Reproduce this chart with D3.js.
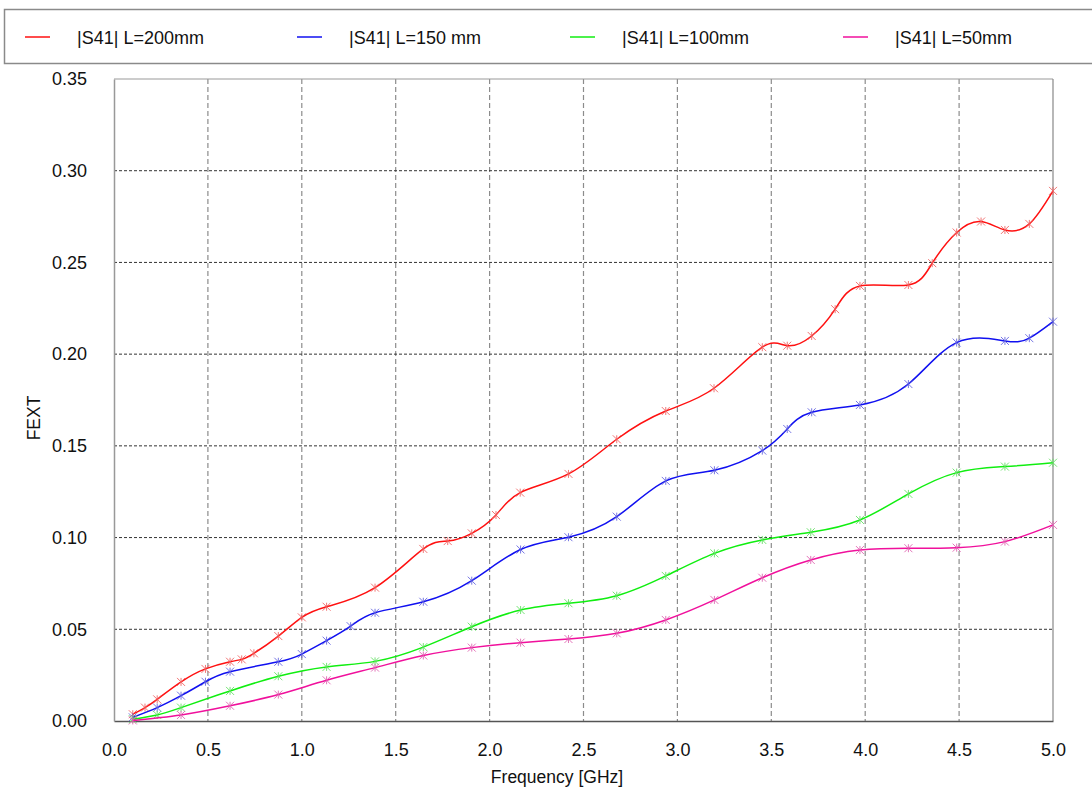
<!DOCTYPE html>
<html>
<head>
<meta charset="utf-8">
<script src="https://cdn.jsdelivr.net/npm/d3@7"></script>
<style>
  html, body { margin: 0; padding: 0; background: #fff; }
  svg { display: block; font-family: "Liberation Sans", Arial, sans-serif; }
</style>
</head>
<body>
<svg id="chart" width="1092" height="791"></svg>
<script>
// ---- data ----
const seriesNames = ["|S41| L=200mm", "|S41| L=150 mm", "|S41| L=100mm", "|S41| L=50mm"];

const freq200 = [0.1,0.165,0.23,0.357,0.487,0.618,0.68,0.745,0.875,1.0,1.132,1.39,1.647,1.777,1.905,2.034,2.163,2.42,2.677,2.938,3.195,3.452,3.585,3.715,3.84,3.972,4.23,4.357,4.487,4.617,4.744,4.874,5.0];
const s41_200 = [0.0037,0.0073,0.0118,0.0213,0.0284,0.0323,0.0336,0.0369,0.0463,0.0565,0.0623,0.0727,0.0938,0.0981,0.1023,0.1123,0.1245,0.1347,0.1536,0.169,0.1814,0.2038,0.2046,0.2099,0.2245,0.2372,0.2377,0.2496,0.2663,0.2723,0.2677,0.271,0.289];

const freq150 = [0.1,0.23,0.357,0.487,0.618,0.875,1.0,1.132,1.26,1.39,1.647,1.905,2.165,2.42,2.677,2.938,3.197,3.452,3.585,3.715,3.972,4.23,4.487,4.744,4.874,5.0];
const s41_150 = [0.002,0.0073,0.0138,0.0214,0.0269,0.0323,0.0365,0.0438,0.0517,0.059,0.065,0.0765,0.0935,0.1002,0.1114,0.1309,0.1367,0.1474,0.1592,0.1683,0.1723,0.1837,0.2063,0.2072,0.2087,0.2177];

const freq100 = [0.1,0.23,0.357,0.618,0.875,1.132,1.39,1.647,1.905,2.165,2.42,2.677,2.938,3.197,3.452,3.71,3.972,4.23,4.487,4.744,5.0];
const s41_100 = [0.001,0.0033,0.0073,0.0164,0.0244,0.0295,0.0325,0.0403,0.0514,0.0605,0.0642,0.0683,0.0791,0.0914,0.0987,0.1029,0.1096,0.1238,0.1354,0.1387,0.1408];

const freq50 = [0.1,0.357,0.618,0.875,1.132,1.39,1.647,1.905,2.165,2.42,2.677,2.938,3.197,3.452,3.71,3.972,4.23,4.487,4.744,5.0];
const s41_50 = [0.0003,0.0033,0.0083,0.0144,0.0222,0.0291,0.0357,0.04,0.0427,0.0447,0.0478,0.0551,0.066,0.0781,0.0878,0.0932,0.0942,0.0945,0.0978,0.1069];

const xTicks = [0.0,0.5,1.0,1.5,2.0,2.5,3.0,3.5,4.0,4.5,5.0];
const yTicks = [0.00,0.05,0.10,0.15,0.20,0.25,0.30,0.35];
const lineColors = ["#ff1010", "#1010f0", "#10ee10", "#f0109c"];
const markColors = ["#f06060", "#6060e0", "#60e060", "#e060b0"];

const seriesData = [
  {name: seriesNames[0], f: freq200, v: s41_200},
  {name: seriesNames[1], f: freq150, v: s41_150},
  {name: seriesNames[2], f: freq100, v: s41_100},
  {name: seriesNames[3], f: freq50,  v: s41_50}
];

// ---- layout ----
const svg = d3.select("#chart");
const L = 114, T = 79, R = 1053, B = 721;
const x = d3.scaleLinear().domain([0, 5]).range([L, R]);
const y = d3.scaleLinear().domain([0, 0.35]).range([B, T]);

// legend
svg.append("rect").attr("x", 4.5).attr("y", 9.5).attr("width", 1100).attr("height", 54)
  .attr("fill", "#fff").attr("stroke", "#8a8a8a").attr("stroke-width", 1.5);
const legX = [25, 297, 570, 843];
seriesData.forEach((s, i) => {
  const g = svg.append("g").attr("transform", `translate(${legX[i]},37)`);
  g.append("line").attr("x1", 0).attr("x2", 25).attr("y1", 0).attr("y2", 0)
    .attr("stroke", lineColors[i]).attr("stroke-width", 1.5);
  g.append("text").attr("x", 52).attr("y", 6.5).attr("font-size", 18).attr("fill", "#111")
    .text(s.name);
});

// grid
const grid = svg.append("g");
xTicks.slice(1, -1).forEach(t => {
  grid.append("line").attr("x1", x(t)).attr("x2", x(t)).attr("y1", T).attr("y2", B)
    .attr("stroke", "#8c8c8c").attr("stroke-width", 1.2).attr("stroke-dasharray", "5,3");
});
yTicks.slice(1, -1).forEach(t => {
  grid.append("line").attr("x1", L).attr("x2", R).attr("y1", y(t)).attr("y2", y(t))
    .attr("stroke", "#333").attr("stroke-width", 1).attr("stroke-dasharray", "3,2");
});

// frame
svg.append("line").attr("x1", L).attr("x2", R).attr("y1", T).attr("y2", T).attr("stroke", "#999").attr("stroke-width", 1);
svg.append("line").attr("x1", R).attr("x2", R).attr("y1", T).attr("y2", B).attr("stroke", "#888").attr("stroke-width", 1.2);

// axes
const xAxis = d3.axisBottom(x).tickValues(xTicks).tickFormat(d3.format(".1f")).tickSize(0).tickPadding(22);
const gx = svg.append("g").attr("transform", `translate(0,${B})`).call(xAxis);
gx.select(".domain").attr("stroke", "#555").attr("stroke-width", 1.5);
gx.selectAll("text").attr("font-size", 18).attr("fill", "#111").attr("font-family", "Liberation Sans, Arial, sans-serif");

const yAxis = d3.axisLeft(y).tickValues(yTicks).tickFormat(d3.format(".2f")).tickSize(0).tickPadding(27);
const gy = svg.append("g").attr("transform", `translate(${L},0)`).call(yAxis);
gy.select(".domain").attr("stroke", "#999").attr("stroke-width", 1.5);
gy.selectAll("text").attr("font-size", 18).attr("fill", "#111").attr("font-family", "Liberation Sans, Arial, sans-serif");

// axis titles
svg.append("text").attr("x", 557).attr("y", 783).attr("text-anchor", "middle")
  .attr("font-size", 17.5).attr("fill", "#111").text("Frequency [GHz]");
svg.append("text").attr("transform", "translate(40,418) rotate(-90)").attr("text-anchor", "middle")
  .attr("font-size", 17.5).attr("fill", "#111").text("FEXT");

// series
const line = d3.line().x(d => x(d[0])).y(d => y(d[1])).curve(d3.curveNatural);
seriesData.forEach((s, i) => {
  const pts = s.f.map((f, k) => [f, s.v[k]]);
  svg.append("path").datum(pts).attr("d", line).attr("fill", "none")
    .attr("stroke", lineColors[i]).attr("stroke-width", 1.5);
  const m = svg.append("g");
  pts.forEach(p => {
    const cx = x(p[0]), cy = y(p[1]), r = 4;
    const g = m.append("g").attr("transform", `translate(${cx},${cy})`)
      .attr("stroke", markColors[i]).attr("stroke-width", 1).attr("opacity", 0.85);
    g.append("line").attr("x1", -r).attr("y1", -r).attr("x2", r).attr("y2", r);
    g.append("line").attr("x1", -r).attr("y1", r).attr("x2", r).attr("y2", -r);
    g.append("line").attr("x1", 0).attr("y1", -r).attr("x2", 0).attr("y2", r);
  });
});
</script>
</body>
</html>
